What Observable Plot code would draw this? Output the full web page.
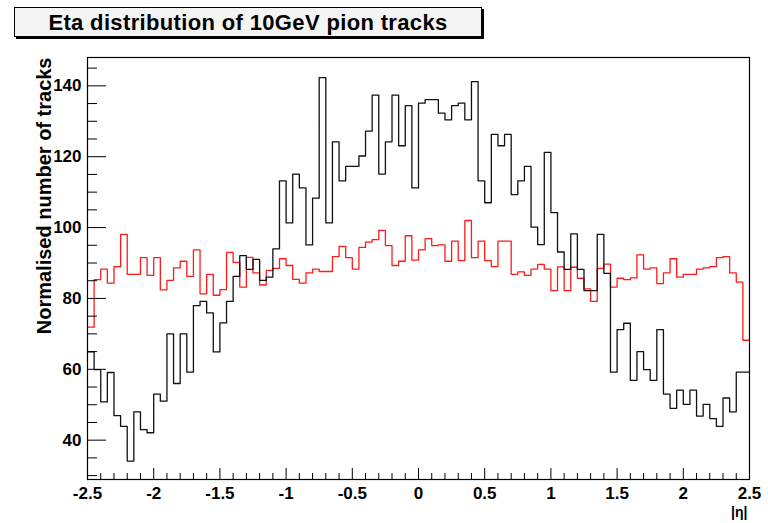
<!DOCTYPE html>
<html><head><meta charset="utf-8">
<script src="https://cdn.jsdelivr.net/npm/d3@7"></script>
<script src="https://cdn.jsdelivr.net/npm/@observablehq/plot@0.6"></script>
<style>
body{margin:0;background:#fff;}
#wrap{position:relative;width:768px;height:523px;font-family:"Liberation Sans",Arial,sans-serif;}
#title{position:absolute;left:14px;top:7px;width:466px;height:28px;border:1px solid #000;box-shadow:2px 2px 0 #000;background:#f4f4f4;font-weight:bold;font-size:22px;letter-spacing:0.35px;text-align:center;line-height:29px;z-index:2;}
</style></head><body>
<div id="wrap"><div id="title">Eta distribution of 10GeV pion tracks</div></div>
<script>
const etaMin = -2.5, etaMax = 2.5, nBins = 100;
const blackValues = [64.9,59.9,50.8,59.1,46.9,43.9,34.1,48.0,43.0,42.1,
  53.0,51.0,70.0,56.0,70.0,59.2,78.0,79.2,75.9,64.9,
  73.1,79.2,86.2,92.1,88.2,91.0,85.1,86.0,94.0,113.2,
  101.3,115.1,111.2,95.1,108.3,142.3,101.3,124.2,113.2,117.3,
  117.3,120.2,127.2,137.4,115.1,124.2,137.4,123.1,134.4,111.2,
  135.1,136.1,136.1,132.3,130.4,134.4,135.1,130.4,141.2,113.2,
  107.0,126.3,123.1,126.3,109.3,113.2,117.3,100.1,95.2,121.2,
  104.2,93.1,88.2,98.2,88.2,82.2,82.2,98.1,87.1,59.2,
  71.2,73.0,56.9,65.0,59.9,56.9,71.2,53.0,49.0,54.1,
  50.1,54.1,46.8,50.1,46.1,43.9,51.9,48.0,59.2,59.2];
const redValues = [71.9,85.3,88.3,84.3,89.0,98.1,86.8,86.8,91.5,86.5,
  91.5,82.4,85.1,88.6,90.5,86.2,93.7,81.3,86.8,80.9,
  82.5,93.0,90.2,83.2,91.6,87.2,83.8,87.9,88.5,91.2,
  89.3,85.4,84.3,87.2,88.3,87.6,87.6,91.8,94.7,91.5,
  88.3,94.4,95.9,96.6,99.2,94.9,89.3,90.5,97.7,90.8,
  93.7,96.9,94.9,95.1,90.5,96.2,90.7,102.0,91.5,96.2,
  90.7,89.0,96.2,96.2,86.8,87.5,86.5,88.3,89.6,88.3,
  82.2,88.9,82.2,88.8,85.7,82.7,79.2,88.5,89.7,83.2,
  85.7,85.3,85.8,92.3,88.3,88.6,84.2,87.2,91.2,86.0,
  86.8,86.8,88.3,88.6,89.0,91.5,91.8,87.2,84.6,68.2];
const yMajorTicks = [40, 60, 80, 100, 120, 140];
const yMinorTicks = [30, 35, 45, 50, 55, 65, 70, 75, 85, 90, 95, 105, 110, 115, 125, 130, 135, 145];
const xMajorTicks = [-2.5, -2, -1.5, -1, -0.5, 0, 0.5, 1, 1.5, 2, 2.5];
const xMinorTicks = d3.range(-24, 25).filter(k => k % 5 !== 0).map(k => k / 10);
const yTitle = "Normalised number of tracks";
const xTitle = "|\u03b7|";

const yMin = 28.9, yMax = 148;
const mLeft = 87, mRight = 19, mTop = 57, mBottom = 44, W = 768, H = 523;
const pxPerX = (W - mLeft - mRight) / (etaMax - etaMin);
const pxPerY = (H - mTop - mBottom) / (yMax - yMin);
const binW = (etaMax - etaMin) / nBins;

function steps(values, series) {
  const rows = values.map((v, i) => ({eta: etaMin + i * binW, v, series}));
  rows.push({eta: etaMax, v: values[values.length - 1], series});
  return rows;
}
const blackRows = steps(blackValues, "black");
const redRows = steps(redValues, "red");

const font = {fontSize: 17, fontWeight: "bold", fontFamily: "Liberation Sans, Arial, sans-serif"};

const chart = Plot.plot({
  width: W, height: H,
  marginLeft: mLeft, marginRight: mRight, marginTop: mTop, marginBottom: mBottom,
  style: {background: "#fff", color: "#000", fontFamily: "Liberation Sans, Arial, sans-serif"},
  x: {domain: [etaMin, etaMax]},
  y: {domain: [yMin, yMax]},
  marks: [
    Plot.line(redRows, {x: "eta", y: "v", curve: "step-after", stroke: "#ff1a1a", strokeWidth: 1.3}),
    Plot.line(blackRows, {x: "eta", y: "v", curve: "step-after", stroke: "#111", strokeWidth: 1.3}),
    Plot.frame({stroke: "#000", strokeWidth: 1.2}),
    Plot.ruleY(yMajorTicks, {y: d => d, x1: etaMin, x2: etaMin + 19 / pxPerX, stroke: "#000"}),
    Plot.ruleY(yMinorTicks, {y: d => d, x1: etaMin, x2: etaMin + 10 / pxPerX, stroke: "#000"}),
    Plot.ruleX(xMajorTicks, {x: d => d, y1: yMin, y2: yMin + 11 / pxPerY, stroke: "#000"}),
    Plot.ruleX(xMinorTicks, {x: d => d, y1: yMin, y2: yMin + 6 / pxPerY, stroke: "#000"}),
    Plot.axisY(yMajorTicks, {ticks: yMajorTicks, tickSize: 0, tickPadding: 6, label: null, ...font, tickFormat: d => String(d)}),
    Plot.axisX(xMajorTicks, {ticks: xMajorTicks, tickSize: 0, tickPadding: 7, label: null, ...font, tickFormat: d => String(d)}),
    Plot.text([yTitle], {text: d => d, frameAnchor: "top-left", rotate: -90, textAnchor: "end", dx: -51, ...font, fontSize: 20}),
    Plot.text([xTitle], {text: d => d, frameAnchor: "bottom-right", textAnchor: "end", lineAnchor: "middle", dy: 33, dx: -2, ...font, fontSize: 14})
  ]
});
document.getElementById("wrap").appendChild(chart);
</script>
</body></html>
